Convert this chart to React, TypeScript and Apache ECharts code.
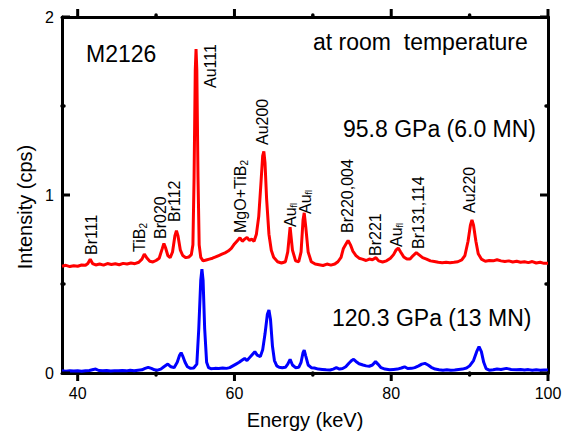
import React, { useEffect, useRef } from "react";
import * as echarts from "echarts";

// Energy (keV) / intensity (cps) — 95.8 GPa (red, offset trace)
const redSpectrum: [number, number][] = [
  [38.0, 0.600], [38.5, 0.605], [39.0, 0.598], [39.5, 0.603], [40.0, 0.600], [40.5, 0.607],
  [41.0, 0.605], [41.3, 0.615], [41.6, 0.640], [41.9, 0.615], [42.3, 0.607], [42.8, 0.612],
  [43.3, 0.606], [43.8, 0.615], [44.3, 0.610], [44.8, 0.614], [45.3, 0.608], [45.8, 0.616],
  [46.3, 0.612], [46.8, 0.618], [47.3, 0.614], [47.8, 0.622], [48.2, 0.640], [48.5, 0.668],
  [48.8, 0.648], [49.2, 0.628], [49.6, 0.624], [50.0, 0.632], [50.4, 0.645], [50.8, 0.700],
  [51.0, 0.728], [51.2, 0.705], [51.5, 0.660], [51.8, 0.648], [52.1, 0.680], [52.4, 0.770],
  [52.6, 0.800], [52.8, 0.770], [53.1, 0.690], [53.4, 0.660], [53.8, 0.648], [54.2, 0.652],
  [54.5, 0.665], [54.7, 0.720], [54.85, 1.100], [55.0, 1.700], [55.1, 1.820], [55.2, 1.700],
  [55.35, 1.100], [55.5, 0.720], [55.7, 0.650], [56.0, 0.630], [56.4, 0.635], [56.8, 0.640],
  [57.2, 0.645], [57.6, 0.652], [58.0, 0.660], [58.4, 0.668], [58.8, 0.675], [59.2, 0.685],
  [59.6, 0.700], [60.0, 0.725], [60.4, 0.745], [60.7, 0.760], [61.0, 0.740], [61.3, 0.752],
  [61.6, 0.762], [61.9, 0.745], [62.2, 0.752], [62.5, 0.740], [62.8, 0.780], [63.1, 0.880],
  [63.4, 1.080], [63.6, 1.220], [63.75, 1.245], [63.9, 1.180], [64.1, 0.980], [64.4, 0.780],
  [64.7, 0.690], [65.0, 0.650], [65.5, 0.625], [66.0, 0.618], [66.5, 0.625], [66.8, 0.680],
  [67.1, 0.820], [67.4, 0.690], [67.8, 0.630], [68.2, 0.625], [68.5, 0.680], [68.75, 0.860],
  [68.9, 0.900], [69.1, 0.820], [69.4, 0.680], [69.8, 0.625], [70.3, 0.612], [70.8, 0.608],
  [71.3, 0.604], [71.8, 0.612], [72.3, 0.606], [72.8, 0.612], [73.2, 0.625], [73.6, 0.650],
  [73.9, 0.700], [74.3, 0.730], [74.5, 0.745], [74.8, 0.720], [75.1, 0.685], [75.5, 0.660],
  [75.9, 0.645], [76.3, 0.640], [76.8, 0.632], [77.2, 0.640], [77.6, 0.636], [78.05, 0.648],
  [78.4, 0.630], [78.9, 0.624], [79.4, 0.630], [79.9, 0.645], [80.3, 0.665], [80.6, 0.690],
  [80.9, 0.702], [81.2, 0.680], [81.6, 0.652], [82.0, 0.640], [82.4, 0.640], [82.8, 0.660],
  [83.2, 0.676], [83.6, 0.662], [84.0, 0.648], [84.5, 0.640], [85.0, 0.630], [85.5, 0.626],
  [86.0, 0.622], [86.5, 0.620], [87.0, 0.622], [87.5, 0.620], [88.0, 0.622], [88.5, 0.625],
  [89.0, 0.635], [89.4, 0.660], [89.8, 0.740], [90.1, 0.830], [90.3, 0.860], [90.5, 0.830],
  [90.8, 0.740], [91.1, 0.670], [91.5, 0.640], [92.0, 0.628], [92.5, 0.632], [93.0, 0.630],
  [93.5, 0.636], [94.0, 0.630], [94.5, 0.626], [95.0, 0.630], [95.5, 0.624], [96.0, 0.628],
  [96.5, 0.622], [97.0, 0.625], [97.5, 0.620], [98.0, 0.626], [98.5, 0.618], [99.0, 0.622],
  [99.5, 0.616], [100.0, 0.616],
];

// 120.3 GPa (blue)
const blueSpectrum: [number, number][] = [
  [38.0, 0.012], [38.5, 0.010], [39.0, 0.013], [39.5, 0.011], [40.0, 0.012], [40.5, 0.010],
  [41.0, 0.013], [41.5, 0.014], [42.0, 0.020], [42.3, 0.022], [42.7, 0.014], [43.2, 0.012],
  [43.7, 0.014], [44.2, 0.011], [44.7, 0.013], [45.2, 0.012], [45.7, 0.014], [46.2, 0.012],
  [46.7, 0.015], [47.2, 0.013], [47.7, 0.016], [48.2, 0.018], [48.6, 0.026], [49.0, 0.032],
  [49.4, 0.026], [49.8, 0.018], [50.2, 0.016], [50.6, 0.022], [51.0, 0.035], [51.5, 0.050],
  [51.9, 0.035], [52.3, 0.030], [52.7, 0.060], [53.0, 0.100], [53.2, 0.114], [53.4, 0.095],
  [53.7, 0.060], [54.0, 0.035], [54.4, 0.026], [54.8, 0.028], [55.2, 0.050], [55.45, 0.250],
  [55.7, 0.520], [55.85, 0.583], [56.0, 0.520], [56.2, 0.250], [56.45, 0.060], [56.7, 0.030],
  [57.0, 0.024], [57.5, 0.026], [58.0, 0.025], [58.5, 0.028], [59.0, 0.026], [59.4, 0.030],
  [59.8, 0.040], [60.2, 0.050], [60.6, 0.060], [61.0, 0.073], [61.3, 0.082], [61.6, 0.070],
  [61.9, 0.085], [62.2, 0.100], [62.6, 0.120], [62.9, 0.100], [63.3, 0.092], [63.6, 0.130],
  [63.9, 0.220], [64.2, 0.330], [64.4, 0.354], [64.6, 0.300], [64.85, 0.150], [65.1, 0.070],
  [65.4, 0.040], [65.7, 0.032], [66.1, 0.030], [66.5, 0.032], [66.8, 0.050], [67.1, 0.077],
  [67.4, 0.045], [67.8, 0.030], [68.2, 0.032], [68.5, 0.060], [68.75, 0.115], [68.9, 0.129],
  [69.1, 0.095], [69.4, 0.045], [69.8, 0.030], [70.2, 0.028], [70.7, 0.022], [71.2, 0.020],
  [71.7, 0.018], [72.2, 0.017], [72.6, 0.022], [73.0, 0.030], [73.4, 0.022], [73.8, 0.025],
  [74.2, 0.035], [74.6, 0.055], [75.0, 0.072], [75.2, 0.077], [75.5, 0.065], [75.9, 0.052],
  [76.4, 0.045], [76.8, 0.040], [77.2, 0.038], [77.6, 0.045], [78.0, 0.064], [78.3, 0.050],
  [78.7, 0.030], [79.2, 0.022], [79.8, 0.018], [80.3, 0.020], [80.8, 0.022], [81.3, 0.028],
  [81.7, 0.035], [82.1, 0.025], [82.6, 0.026], [83.0, 0.030], [83.5, 0.040], [83.9, 0.050],
  [84.3, 0.054], [84.7, 0.045], [85.1, 0.032], [85.6, 0.022], [86.1, 0.018], [86.6, 0.016],
  [87.1, 0.018], [87.6, 0.016], [88.1, 0.017], [88.6, 0.020], [89.1, 0.022], [89.6, 0.028],
  [90.0, 0.040], [90.5, 0.070], [90.9, 0.120], [91.2, 0.148], [91.5, 0.120], [91.8, 0.060],
  [92.1, 0.025], [92.5, 0.016], [93.0, 0.018], [93.5, 0.022], [94.0, 0.020], [94.7, 0.026],
  [95.3, 0.020], [96.0, 0.018], [96.5, 0.020], [97.0, 0.017], [97.5, 0.019], [98.0, 0.016],
  [98.5, 0.018], [99.0, 0.016], [99.5, 0.017], [100.0, 0.017],
];

const xMajorTicks = [40, 60, 80, 100];
const xMinorTicks = [50, 70, 90];
const yMajorTicks = [0, 1, 2];
const yMinorTicks = [0.5, 1.5];
const xRange = [38, 100];
const yRange = [0, 2];

const FONT = "'Liberation Sans', Arial, sans-serif";

type PeakLabel = { text: string; x: number; y: number };
const peakLabels: PeakLabel[] = [
  { text: "Br111", x: 91, y: 255 },
  { text: "TiB{s|2}", x: 139, y: 252 },
  { text: "Br020", x: 160, y: 239 },
  { text: "Br112", x: 174, y: 222 },
  { text: "Au111", x: 210.5, y: 88 },
  { text: "MgO+TiB{s|2}", x: 240, y: 233 },
  { text: "Au200", x: 262, y: 145 },
  { text: "Au{f|fl}", x: 290, y: 227 },
  { text: "Au{f|fl}", x: 305, y: 214 },
  { text: "Br220,004", x: 347.5, y: 233 },
  { text: "Br221", x: 375.5, y: 256 },
  { text: "Au{f|fl}", x: 396, y: 247 },
  { text: "Br131,114", x: 418, y: 249 },
  { text: "Au220", x: 469, y: 213 },
];

export default function App() {
  const ref = useRef<HTMLDivElement>(null);
  useEffect(() => {
    if (!ref.current) return;
    const chart = echarts.init(ref.current, undefined, { renderer: "svg" });
    const axisLine = { show: true, onZero: false, lineStyle: { color: "#000", width: 3 } };
    const labelStyle = { color: "#000", fontSize: 16, fontFamily: FONT };
    const majorTickStyle = { stroke: "#000", lineWidth: 3 };
    const minorTickStyle = { stroke: "#000", lineWidth: 3.5, lineCap: "round" };

    const xBase = {
      type: "value" as const,
      min: xRange[0],
      max: xRange[1],
      splitLine: { show: false },
      axisTick: { show: false },
    };
    const yBase = {
      type: "value" as const,
      min: yRange[0],
      max: yRange[1],
      interval: 1,
      splitLine: { show: false },
      axisTick: { show: false },
    };

    const richText = {
      s: { fontSize: 10, fontFamily: FONT, color: "#000", padding: [8, 0, 0, 0] },
      f: { fontSize: 9, fontFamily: FONT, color: "#000", padding: [8, 0, 0, 0] },
    };

    chart.setOption({
      animation: false,
      backgroundColor: "#fff",
      grid: { left: 62, right: 21, top: 17, bottom: 63, containLabel: false, outerBoundsMode: "none" },
      xAxis: [
        {
          ...xBase,
          position: "bottom",
          axisLine,
          axisLabel: { ...labelStyle, customValues: xMajorTicks, margin: 12 },
          name: "Energy (keV)",
          nameLocation: "middle",
          nameGap: 37,
          nameTextStyle: { color: "#000", fontSize: 20, fontFamily: FONT },
        },
        {
          ...xBase,
          position: "top",
          axisLine,
          axisLabel: { show: false },
        },
      ],
      yAxis: [
        {
          ...yBase,
          position: "left",
          axisLine,
          axisLabel: { ...labelStyle, margin: 8 },
        },
        {
          ...yBase,
          position: "right",
          axisLine,
          axisLabel: { show: false },
        },
      ],
      series: [
        {
          type: "line",
          name: "120.3 GPa",
          data: blueSpectrum,
          showSymbol: false,
          symbol: "none",
          lineStyle: { color: "#0000ff", width: 3 },
          z: 2,
        },
        {
          type: "line",
          name: "95.8 GPa",
          data: redSpectrum,
          showSymbol: false,
          symbol: "none",
          lineStyle: { color: "#ff0000", width: 3 },
          z: 3,
        },
      ],
    });

    // Tick marks placed through the axes' own scales (x ticks outward, y ticks inward).
    const toPx = (v: [number, number]) =>
      chart.convertToPixel({ xAxisIndex: 0, yAxisIndex: 0 }, v) as number[];
    const tickEls: any[] = [];
    [...xMajorTicks, ...xMinorTicks].forEach((v) => {
      const major = xMajorTicks.includes(v);
      const len = major ? 8 : 2;
      const style = major ? majorTickStyle : minorTickStyle;
      const b = toPx([v, yRange[0]]);
      const t = toPx([v, yRange[1]]);
      tickEls.push({ type: "line", z: 20, shape: { x1: b[0], y1: b[1], x2: b[0], y2: b[1] + len }, style });
      tickEls.push({ type: "line", z: 20, shape: { x1: t[0], y1: t[1], x2: t[0], y2: t[1] - len }, style });
    });
    [...yMajorTicks, ...yMinorTicks].forEach((v) => {
      const major = yMajorTicks.includes(v);
      const len = major ? 8 : 2;
      const style = major ? majorTickStyle : minorTickStyle;
      const l = toPx([xRange[0], v]);
      const r = toPx([xRange[1], v]);
      tickEls.push({ type: "line", z: 20, shape: { x1: l[0], y1: l[1], x2: l[0] + len, y2: l[1] }, style });
      tickEls.push({ type: "line", z: 20, shape: { x1: r[0], y1: r[1], x2: r[0] - len, y2: r[1] }, style });
    });

    chart.setOption({
      graphic: [
        ...tickEls,
        {
          type: "text",
          x: 25,
          y: 207,
          rotation: Math.PI / 2,
          z: 10,
          style: {
            text: "Intensity (cps)",
            fontSize: 20,
            fontFamily: FONT,
            fill: "#000",
            align: "center",
            verticalAlign: "middle",
          },
        },
        {
          type: "text", left: 86, top: 42, z: 10,
          style: { text: "M2126", fontSize: 23, fontFamily: FONT, fill: "#000" },
        },
        {
          type: "text", left: 313, top: 30, z: 10,
          style: { text: "at room  temperature", fontSize: 23, fontFamily: FONT, fill: "#000" },
        },
        {
          type: "text", left: 343, top: 117, z: 10,
          style: { text: "95.8 GPa (6.0 MN)", fontSize: 23, fontFamily: FONT, fill: "#000" },
        },
        {
          type: "text", left: 332, top: 306, z: 10,
          style: { text: "120.3 GPa (13 MN)", fontSize: 23, fontFamily: FONT, fill: "#000" },
        },
        ...peakLabels.map((p) => ({
          type: "text",
          x: p.x,
          y: p.y,
          rotation: Math.PI / 2,
          z: 10,
          style: {
            text: p.text,
            fontSize: 16,
            fontFamily: FONT,
            fill: "#000",
            align: "left",
            verticalAlign: "middle",
            rich: richText,
          },
        })),
      ],
    });
    return () => chart.dispose();
  }, []);
  return (
    <div
      ref={ref}
      style={{ position: "fixed", left: 0, top: 0, width: 569, height: 436, background: "#fff" }}
    />
  );
}
